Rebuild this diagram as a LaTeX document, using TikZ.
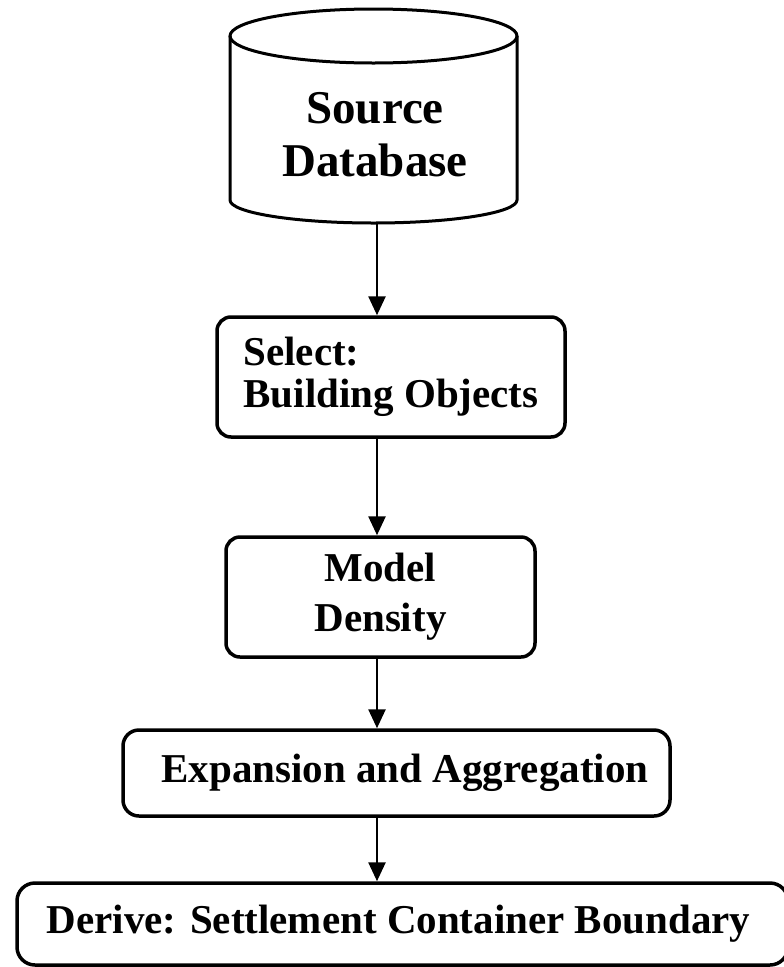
\documentclass[tikz,border=0pt]{standalone}
\usepackage{fontspec}
\setmainfont{Liberation Serif}
\usetikzlibrary{arrows.meta}
\begin{document}
\begin{tikzpicture}[x=1pt,y=1pt,
  box/.style={draw, line width=3.5pt, rounded corners=14pt, inner sep=0pt,
    align=center},
  big/.style={font=\bfseries\fontsize{41}{#1}\selectfont},
  arr/.style={line width=2.6pt, -{Triangle[width=17pt,length=19pt]}}]
\useasboundingbox (0,0) rectangle (784,-967);

% database cylinder
\draw[line width=3pt] (230,-36) -- (230,-200)
  arc[start angle=180, end angle=360, x radius=143.5pt, y radius=23pt]
  -- (517,-36);
\draw[line width=3pt] (373.5,-36) ellipse [x radius=143.5pt, y radius=27pt];
\node[font=\bfseries\fontsize{47}{53}\selectfont, align=center, inner sep=0pt]
  (db) at (375,-134.5) {Source\\Database};
\coordinate (dbbot) at (377,-223);

% process steps
\node[box, big=42, align=left, minimum width=348pt, minimum height=120pt]
  (sel) at (391,-377) {Select:\\Building Objects};
\node[box, big=50, minimum width=309pt, minimum height=120pt]
  (mod) at (380.5,-597) {Model\\Density};
\node[box, big=44, minimum width=547pt, minimum height=86pt, rounded corners=16pt]
  (exp) at (396.5,-773) {\hspace*{17pt}Expansion and Aggregation};
\node[box, big=44, minimum width=771pt, minimum height=82pt, rounded corners=18pt]
  (der) at (402.5,-924) {Derive: Settlement Container Boundary\hspace*{8pt}};

% connectors
\draw[arr] (dbbot) -- (sel.north -| dbbot);
\draw[arr] (sel.south -| dbbot) -- (mod.north -| dbbot);
\draw[arr] (mod.south -| dbbot) -- (exp.north -| dbbot);
\draw[arr] (exp.south -| dbbot) -- (der.north -| dbbot);
\end{tikzpicture}
\end{document}
